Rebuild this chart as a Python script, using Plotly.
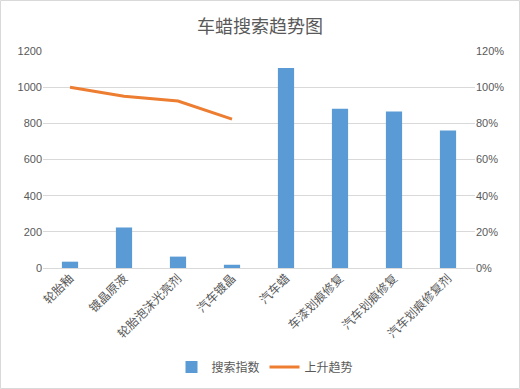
import plotly.graph_objects as go

categories = ["轮胎釉", "镀晶原液", "轮胎泡沫光亮剂", "汽车镀晶", "汽车蜡", "车漆划痕修复", "汽车划痕修复", "汽车划痕修复剂"]
search_index = [35, 224, 63, 18, 1106, 881, 865, 761]
trend = [1.00, 0.95, 0.923, 0.823, None, None, None, None]

W, H = 520, 389
ml, mr, mt, mb = 43, 45, 51, 121
pw, ph = W - ml - mr, H - mt - mb

grid = "#D9D9D9"
txt = "#595959"
font_family = "Noto Sans CJK SC, Liberation Sans, sans-serif"

fig = go.Figure()
fig.add_trace(go.Bar(x=categories, y=search_index, name="搜索指数",
                     marker=dict(color="#5B9BD5", line=dict(width=0))))
fig.add_trace(go.Scatter(x=categories, y=trend, name="上升趋势", yaxis="y2",
                         mode="lines", line=dict(color="#ED7D31", width=3),
                         connectgaps=False))

fig.update_layout(
    width=W, height=H,
    margin=dict(l=ml, r=mr, t=mt, b=mb),
    paper_bgcolor="white", plot_bgcolor="white",
    font=dict(family=font_family, size=12, color=txt),
    title=dict(text="车蜡搜索趋势图", x=0.5, xanchor="center", y=1 - 27 / H, yanchor="middle",
               font=dict(size=18, color=txt, family=font_family)),
    bargap=0.7,
    showlegend=True,
    legend=dict(orientation="h", x=0.5 + 6 / pw, xanchor="center", yref="container",
                y=(H - 367) / H, yanchor="middle", font=dict(size=12, color=txt),
                itemwidth=30, tracegroupgap=0),
    xaxis=dict(type="category", tickangle=-45, showgrid=False, showline=False,
               ticks="", tickfont=dict(size=12, color=txt), range=[-0.5, 7.5]),
    yaxis=dict(range=[0, 1200], dtick=200, showgrid=True, gridcolor=grid, gridwidth=1,
               zeroline=True, zerolinecolor=grid, zerolinewidth=1, showline=False,
               ticks="", tickfont=dict(size=11, color=txt, family="Liberation Sans, sans-serif")),
    yaxis2=dict(range=[0, 1.2], dtick=0.2, tickformat=".0%", overlaying="y", side="right",
                showgrid=False, zeroline=False, showline=False, ticks="",
                tickfont=dict(size=11, color=txt, family="Liberation Sans, sans-serif")),
    shapes=[dict(type="rect", xref="paper", yref="paper",
                 x0=(-ml + 0.5) / pw, x1=(pw + mr - 0.5) / pw,
                 y0=(-mb + 0.5) / ph, y1=(ph + mt - 0.5) / ph,
                 line=dict(color=grid, width=1), layer="below")],
)

fig.write_html("out.html", config={"displayModeBar": False},
               post_script="document.body.style.margin='0';document.body.style.overflow='hidden';")
